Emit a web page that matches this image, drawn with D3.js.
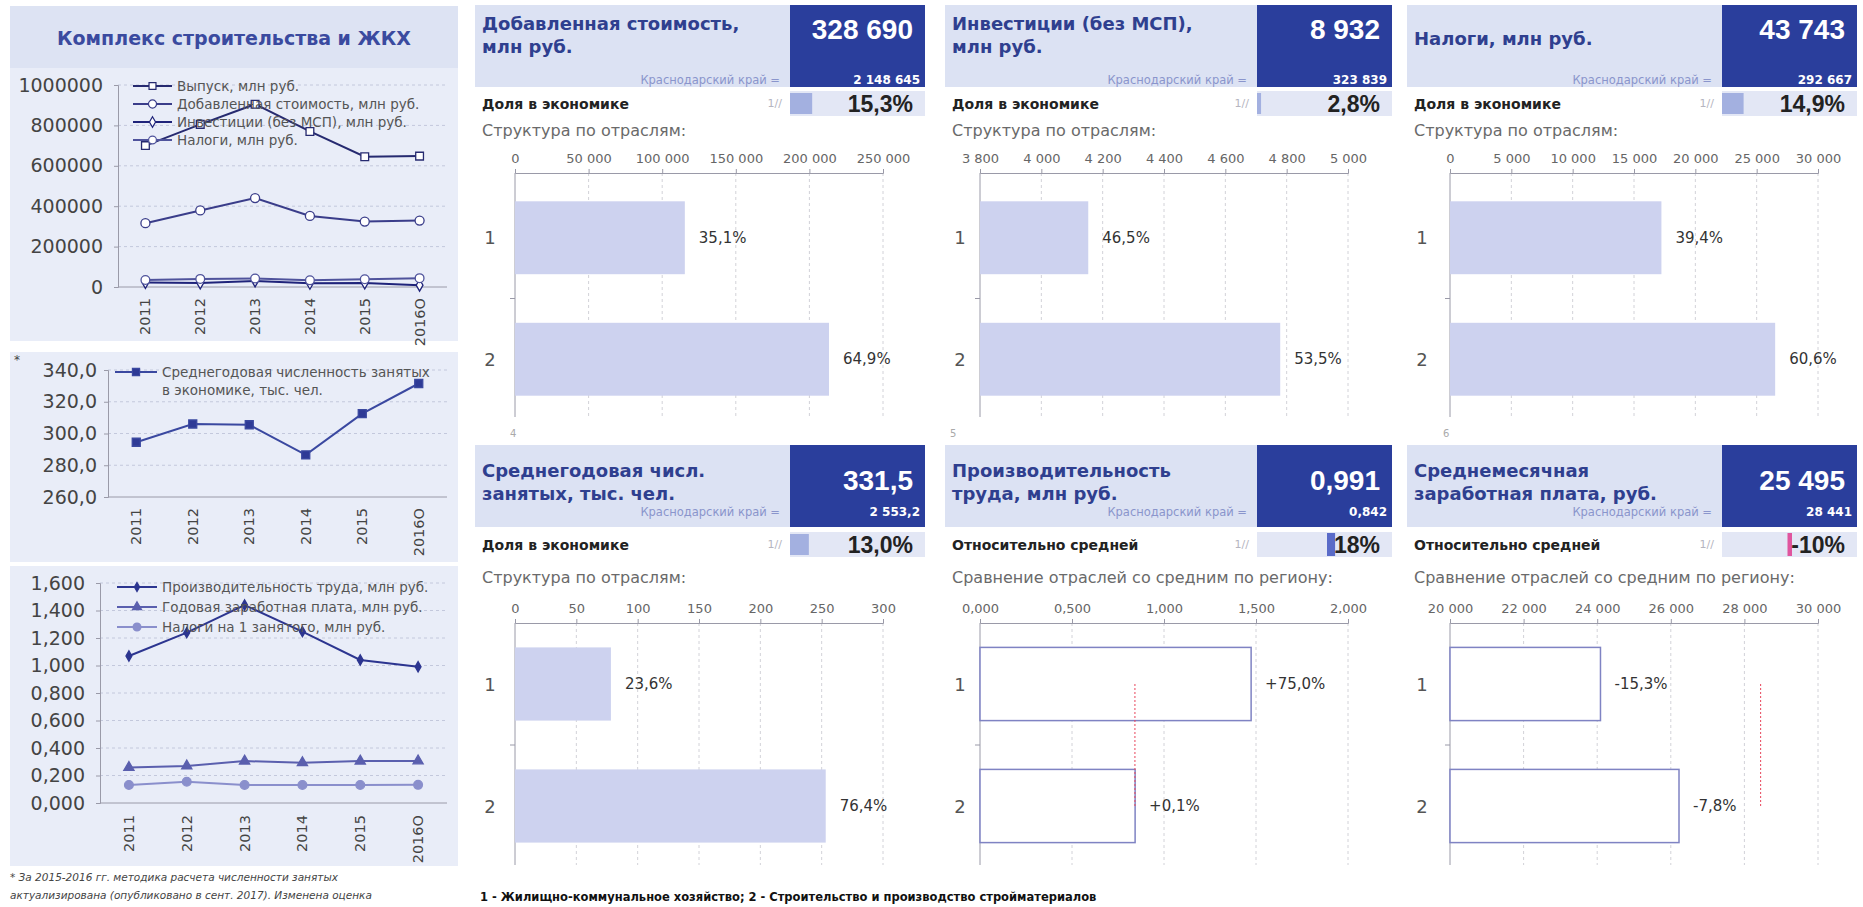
<!DOCTYPE html>
<html><head><meta charset="utf-8">
<script src="https://cdn.jsdelivr.net/npm/d3@7"></script>
<style>
body{margin:0;background:#fff}
svg{display:block}
</style>
</head><body>
<svg id="c" width="1863" height="907" font-family='"DejaVu Sans",sans-serif'></svg>
<script>
// ---------------- DATA ----------------
const years = ['2011','2012','2013','2014','2015','2016О'];

// chart 1: Комплекс строительства и ЖКХ
const outputValues     = [700000, 805000, 905000, 770000, 645000, 648000];
const valueAddedValues = [316000, 379000, 440000, 352000, 324000, 328690];
const investmentValues = [22000, 20000, 30000, 18000, 20000, 8932];
const taxValues        = [35000, 40000, 42000, 33000, 38000, 43743];
const chart1Ticks = [0, 200000, 400000, 600000, 800000, 1000000];
const chart1Names = ['Выпуск, млн руб.', 'Добавленная стоимость, млн руб.', 'Инвестиции (без МСП), млн руб.', 'Налоги, млн руб.'];

// chart 2: employment
const employmentValues = [294.5, 306.0, 305.5, 286.5, 312.5, 331.5];
const chart2Ticks = [260, 280, 300, 320, 340];
const chart2Name = ['Среднегодовая численность занятых', 'в экономике, тыс. чел.'];

// chart 3: productivity, wage, taxes per employee
const productivityValues = [1.069, 1.239, 1.440, 1.246, 1.040, 0.991];
const annualWageValues   = [0.258, 0.269, 0.305, 0.293, 0.305, 0.306];
const taxPerEmpValues    = [0.131, 0.155, 0.131, 0.131, 0.131, 0.132];
const chart3Ticks = [0, 0.2, 0.4, 0.6, 0.8, 1.0, 1.2, 1.4, 1.6];
const chart3Names = ['Производительность труда, млн руб.', 'Годовая заработная плата, млн руб.', 'Налоги на 1 занятого, млн руб.'];

// cards
const cardTitles = [
  ['Добавленная стоимость,', 'млн руб.'],
  ['Инвестиции (без МСП),', 'млн руб.'],
  ['Налоги, млн руб.'],
  ['Среднегодовая числ.', 'занятых, тыс. чел.'],
  ['Производительность', 'труда, млн руб.'],
  ['Среднемесячная', 'заработная плата, руб.']
];
const cardValues   = ['328 690', '8 932', '43 743', '331,5', '0,991', '25 495'];
const regionValues = ['2 148 645', '323 839', '292 667', '2 553,2', '0,842', '28 441'];
const shareLabels  = ['Доля в экономике', 'Доля в экономике', 'Доля в экономике', 'Доля в экономике', 'Относительно средней', 'Относительно средней'];
const shareValues  = [15.3, 2.8, 14.9, 13.0, 18, -10];
const shareTexts   = ['15,3%', '2,8%', '14,9%', '13,0%', '18%', '-10%'];
const subTitles    = ['Структура по отраслям:', 'Структура по отраслям:', 'Структура по отраслям:', 'Структура по отраслям:',
                      'Сравнение отраслей со средним по региону:', 'Сравнение отраслей со средним по региону:'];
const industries = ['1', '2'];
const barValues = [
  [115370, 213320],
  [4153, 4779],
  [17235, 26508],
  [78.2, 253.3],
  [1.4735, 0.843],
  [24089, 26223]
];
const barTexts = [
  ['35,1%', '64,9%'],
  ['46,5%', '53,5%'],
  ['39,4%', '60,6%'],
  ['23,6%', '76,4%'],
  ['+75,0%', '+0,1%'],
  ['-15,3%', '-7,8%']
];
const barTicks = [
  [0, 50000, 100000, 150000, 200000, 250000],
  [3800, 4000, 4200, 4400, 4600, 4800, 5000],
  [0, 5000, 10000, 15000, 20000, 25000, 30000],
  [0, 50, 100, 150, 200, 250, 300],
  [0, 0.5, 1, 1.5, 2],
  [20000, 22000, 24000, 26000, 28000, 30000]
];
const regionAverages = [null, null, null, null, 0.842, 28441];
const cardNumbers = ['4', '5', '6'];

// ---------------- DRAW ----------------
const svg = d3.select('#c');
const ru = d3.formatLocale({decimal: ',', thousands: '\u00a0', grouping: [3], currency: ['', '']});
const DJ = '"DejaVu Sans",sans-serif';
const AR = '"Liberation Sans",Arial,sans-serif';

const LEFT_X = 10, LEFT_W = 448, PLOT_R = 447;

// title band
svg.append('rect').attr('x', LEFT_X).attr('y', 6).attr('width', LEFT_W).attr('height', 62).attr('fill', '#dde3f3');
svg.append('text').attr('x', 234).attr('y', 38).attr('text-anchor', 'middle').attr('dominant-baseline', 'central')
  .attr('font-size', 19).attr('font-weight', 'bold').attr('fill', '#3a4a9f').text('Комплекс строительства и ЖКХ');

function marker(g, type, size, cx, cy, fill, stroke, sw) {
  g.append('path').attr('d', d3.symbol().type(type).size(size)())
    .attr('transform', `translate(${cx},${cy})`).attr('fill', fill).attr('stroke', stroke).attr('stroke-width', sw);
}

function lineChart(o) {
  const g = svg.append('g');
  g.append('rect').attr('x', LEFT_X).attr('y', o.panel[0]).attr('width', LEFT_W).attr('height', o.panel[1] - o.panel[0]).attr('fill', '#e9edf8');
  const x = d3.scalePoint().domain(years).range([o.x0, PLOT_R]).padding(0.5);
  const y = d3.scaleLinear().domain([o.ticks[0], o.ticks[o.ticks.length - 1]]).range([o.yBottom, o.yTop]);
  g.selectAll('line.grid').data(o.ticks.slice(1)).join('line').attr('class', 'grid')
    .attr('x1', o.x0).attr('x2', PLOT_R).attr('y1', d => y(d)).attr('y2', d => y(d))
    .attr('stroke', '#c3c8dc').attr('stroke-dasharray', '3,3');
  const ya = g.append('g').attr('transform', `translate(${o.x0},0)`)
    .call(d3.axisLeft(y).tickValues(o.ticks).tickFormat(o.fmt).tickSize(4).tickPadding(o.pad));
  ya.attr('font-family', DJ);
  ya.select('.domain').attr('stroke', '#9a9aa8');
  ya.selectAll('.tick line').attr('stroke', '#9a9aa8');
  ya.selectAll('text').attr('font-size', o.fs).attr('fill', '#444');
  g.append('line').attr('x1', o.x0).attr('x2', PLOT_R).attr('y1', o.yBottom).attr('y2', o.yBottom).attr('stroke', '#9a9aa8');
  g.selectAll('text.xl').data(years).join('text').attr('class', 'xl')
    .attr('transform', d => `translate(${x(d)},${o.yBottom + o.xlOff}) rotate(-90)`)
    .attr('text-anchor', 'end').attr('dominant-baseline', 'central').attr('font-size', 14.5).attr('fill', '#444').text(d => d);
  o.series.forEach(s => {
    g.append('path').datum(s.values).attr('fill', 'none').attr('stroke', s.color).attr('stroke-width', s.lw || 2)
      .attr('d', d3.line().x((d, i) => x(years[i])).y(d => y(d)));
    s.values.forEach((v, i) => marker(g, s.type, s.size, x(years[i]), y(v), s.fill, s.color, 1.3));
  });
  o.series.forEach((s, i) => {
    if (!s.name) return;
    const ly = o.legY + i * o.legStep;
    g.append('line').attr('x1', o.legX[0]).attr('x2', o.legX[1]).attr('y1', ly).attr('y2', ly).attr('stroke', s.color).attr('stroke-width', 2);
    marker(g, s.type, s.size * 0.8, (o.legX[0] + o.legX[1]) / 2, ly, s.fill, s.color, 1.2);
    s.name.forEach((t, k) => g.append('text').attr('x', o.legX[1] + 5).attr('y', ly + k * 18)
      .attr('dominant-baseline', 'central').attr('font-size', 13.5).attr('fill', '#555').text(t));
  });
  return g;
}

lineChart({
  panel: [68, 341], x0: 118, yTop: 85, yBottom: 287, ticks: chart1Ticks, fmt: d3.format('d'), pad: 11, fs: 19, xlOff: 11,
  legX: [133, 172], legY: 86, legStep: 18,
  series: [
    {values: outputValues, color: '#262a70', type: d3.symbolSquare, size: 60, fill: '#fff', name: [chart1Names[0]]},
    {values: valueAddedValues, color: '#3a3d8a', type: d3.symbolCircle, size: 64, fill: '#fff', name: [chart1Names[1]]},
    {values: investmentValues, color: '#1f237a', type: d3.symbolDiamond, size: 40, fill: '#fff', name: [chart1Names[2]]},
    {values: taxValues, color: '#4f539c', type: d3.symbolCircle, size: 60, fill: '#fff', name: [chart1Names[3]]}
  ]
});

lineChart({
  panel: [352, 562], x0: 108, yTop: 370, yBottom: 497, ticks: chart2Ticks, fmt: ru.format('.1f'), pad: 7, fs: 19, xlOff: 11,
  legX: [115, 157], legY: 372, legStep: 18,
  series: [
    {values: employmentValues, color: '#3a48a0', type: d3.symbolSquare, size: 64, fill: '#2e3a96', name: chart2Name}
  ]
});
svg.append('text').attr('x', 14).attr('y', 364).attr('font-size', 12).attr('fill', '#444').text('*');

lineChart({
  panel: [566, 866], x0: 100, yTop: 583, yBottom: 803, ticks: chart3Ticks, fmt: ru.format('.3f'), pad: 11, fs: 19, xlOff: 12,
  legX: [117, 157], legY: 587, legStep: 20,
  series: [
    {values: productivityValues, color: '#2c3590', type: d3.symbolDiamond, size: 30, fill: '#2c3590', name: [chart3Names[0]]},
    {values: annualWageValues, color: '#5a5fae', type: d3.symbolTriangle, size: 45, fill: '#5a5fae', name: [chart3Names[1]]},
    {values: taxPerEmpValues, color: '#8a8fcc', type: d3.symbolCircle, size: 60, fill: '#8a8fcc', name: [chart3Names[2]]}
  ]
});

// footnote
svg.append('text').attr('x', 10).attr('y', 881).attr('font-size', 10.5).attr('font-style', 'italic').attr('fill', '#444')
  .text('* За 2015-2016 гг. методика расчета численности занятых');
svg.append('text').attr('x', 10).attr('y', 899).attr('font-size', 10.5).attr('font-style', 'italic').attr('fill', '#444')
  .text('актуализирована (опубликовано в сент. 2017). Изменена оценка');

// ---------------- CARDS ----------------
const colX = [475, 945, 1407], colW = [450, 447, 450];
const axisX0 = [515, 980, 1450], AXIS_LEN = 368;
const rowTop = [5, 445];
const titleY = [[23, 46], [470, 493]];
const singleTitleY = [38, 482];
const numberY = [29, 480];
const regionY = [80, 512];
const shareY = [91, 532];
const subY = [130, 577];
const axisY = [173, 623];
const catRange = [[177, 420], [623, 867]];
const gridBottom = [417, 865];
const numLabelX = [510, 950, 1443];
const DARK_W = 135, HEADER_H = 82, SHARE_H = 25;

const shareScale = d3.scaleLinear().domain([0, 100]).range([0, 145]);
const relScale = d3.scaleLinear().domain([0, 100]).range([0, 45]);

const fmts = [ru.format(',d'), ru.format(',d'), ru.format(',d'), ru.format('d'), ru.format('.3f'), ru.format(',d')];

cardTitles.forEach((title, i) => {
  const col = i % 3, row = Math.floor(i / 3);
  const g = svg.append('g');
  const cx = colX[col], cw = colW[col], top = rowTop[row];
  const boxL = cx + cw - DARK_W, boxR = cx + cw;
  g.append('rect').attr('x', cx).attr('y', top).attr('width', cw).attr('height', HEADER_H).attr('fill', '#dce2f3');
  g.append('rect').attr('x', boxL).attr('y', top).attr('width', DARK_W).attr('height', HEADER_H).attr('fill', '#2a3e9c');
  // title
  const tlines = title.length === 1 ? [singleTitleY[row]] : titleY[row];
  title.forEach((t, k) => g.append('text').attr('x', cx + 7).attr('y', tlines[k]).attr('dominant-baseline', 'central')
    .attr('font-size', 18).attr('font-weight', 'bold').attr('fill', '#2f3f8f').text(t));
  g.append('text').attr('x', boxR - 12).attr('y', numberY[row]).attr('text-anchor', 'end').attr('dominant-baseline', 'central')
    .attr('font-family', AR).attr('font-size', 28).attr('font-weight', 'bold').attr('fill', '#fff').text(cardValues[i]);
  g.append('text').attr('x', boxL - 10).attr('y', regionY[row]).attr('text-anchor', 'end').attr('dominant-baseline', 'central')
    .attr('font-size', 11.5).attr('fill', '#8a95cc').text('Краснодарский край =');
  g.append('text').attr('x', boxR - 5).attr('y', regionY[row]).attr('text-anchor', 'end').attr('dominant-baseline', 'central')
    .attr('font-size', 12).attr('font-weight', 'bold').attr('fill', '#fff').text(regionValues[i]);
  // share row
  const sy = shareY[row];
  g.append('rect').attr('x', boxL).attr('y', sy).attr('width', DARK_W).attr('height', SHARE_H).attr('fill', '#e3e7f5');
  const sv = shareValues[i];
  if (row === 1 && col > 0) {
    const mid = boxL + 70;
    const w = relScale(Math.abs(sv));
    g.append('rect').attr('x', sv >= 0 ? mid : mid - w).attr('y', sy + 1).attr('width', w).attr('height', SHARE_H - 2)
      .attr('fill', sv >= 0 ? '#5a6bc8' : '#e0559e');
  } else {
    g.append('rect').attr('x', boxL).attr('y', sy + 2).attr('width', shareScale(sv)).attr('height', SHARE_H - 4).attr('fill', '#a3b0e0');
  }
  g.append('text').attr('x', cx + 7).attr('y', sy + SHARE_H / 2).attr('dominant-baseline', 'central')
    .attr('font-size', 14).attr('font-weight', 'bold').attr('fill', '#222').text(shareLabels[i]);
  g.append('text').attr('x', boxL - 8).attr('y', sy + SHARE_H / 2).attr('text-anchor', 'end').attr('dominant-baseline', 'central')
    .attr('font-size', 11).attr('fill', '#b5b5c0').text('1//');
  g.append('text').attr('x', boxR - 12).attr('y', sy + SHARE_H / 2).attr('text-anchor', 'end').attr('dominant-baseline', 'central')
    .attr('font-family', AR).attr('font-size', 23).attr('font-weight', 'bold').attr('fill', '#222').text(shareTexts[i]);
  g.append('text').attr('x', cx + 7).attr('y', subY[row]).attr('dominant-baseline', 'central')
    .attr('font-size', 16).attr('fill', '#6a6a6a').text(subTitles[i]);

  // bar chart
  const ticks = barTicks[i];
  const x = d3.scaleLinear().domain([ticks[0], ticks[ticks.length - 1]]).range([axisX0[col], axisX0[col] + AXIS_LEN]);
  const y = d3.scaleBand().domain(industries).range(catRange[row]).paddingInner(0.4).paddingOuter(0.2);
  const ay = axisY[row], gb = gridBottom[row];
  g.selectAll('line.grid').data(ticks.slice(1)).join('line').attr('class', 'grid')
    .attr('x1', d => x(d)).attr('x2', d => x(d)).attr('y1', ay).attr('y2', gb)
    .attr('stroke', '#d2d2d8').attr('stroke-dasharray', '3,3');
  const xa = g.append('g').attr('transform', `translate(0,${ay})`)
    .call(d3.axisTop(x).tickValues(ticks).tickFormat(fmts[i]).tickSize(4).tickPadding(6));
  xa.attr('font-family', DJ);
  xa.select('.domain').attr('stroke', '#9a9aa8');
  xa.selectAll('.tick line').attr('stroke', '#9a9aa8');
  xa.selectAll('text').attr('font-size', 13).attr('fill', '#666');
  // category axis
  g.append('line').attr('x1', x.range()[0]).attr('x2', x.range()[0]).attr('y1', ay).attr('y2', gb).attr('stroke', '#9a9aa8');
  const step = y.step();
  g.append('line').attr('x1', x.range()[0] - 5).attr('x2', x.range()[0]).attr('y1', catRange[row][0] + step).attr('y2', catRange[row][0] + step).attr('stroke', '#9a9aa8');
  // bars
  const outlined = row === 1 && col > 0;
  g.selectAll('rect.bar').data(barValues[i]).join('rect').attr('class', 'bar')
    .attr('x', x.range()[0]).attr('y', (d, k) => y(industries[k]))
    .attr('width', d => x(d) - x.range()[0]).attr('height', y.bandwidth())
    .attr('fill', outlined ? '#fff' : '#cdd2ef').attr('stroke', outlined ? '#7f83c3' : 'none').attr('stroke-width', 1.5);
  g.selectAll('text.cat').data(industries).join('text').attr('class', 'cat')
    .attr('x', cx + 15).attr('y', d => y(d) + y.bandwidth() / 2).attr('text-anchor', 'middle').attr('dominant-baseline', 'central')
    .attr('font-size', 18).attr('fill', '#555').text(d => d);
  g.selectAll('text.val').data(barValues[i]).join('text').attr('class', 'val')
    .attr('x', d => x(d) + 14).attr('y', (d, k) => y(industries[k]) + y.bandwidth() / 2).attr('dominant-baseline', 'central')
    .attr('font-size', 15).attr('fill', '#333').text((d, k) => barTexts[i][k]);
  if (regionAverages[i] !== null) {
    g.append('line').attr('x1', x(regionAverages[i])).attr('x2', x(regionAverages[i]))
      .attr('y1', y('1') + y.bandwidth() / 2).attr('y2', y('2') + y.bandwidth() / 2)
      .attr('stroke', '#e8455a').attr('stroke-width', 1).attr('stroke-dasharray', '2,2');
  }
  if (row === 0) {
    g.append('text').attr('x', numLabelX[col]).attr('y', 433).attr('dominant-baseline', 'central')
      .attr('font-size', 10).attr('fill', '#aaa').text(cardNumbers[col]);
  }
});

svg.append('text').attr('x', 480).attr('y', 897).attr('dominant-baseline', 'central')
  .attr('font-size', 11.5).attr('font-weight', 'bold').attr('fill', '#111')
  .text('1 - Жилищно-коммунальное хозяйство; 2 - Строительство и производство стройматериалов');
</script>
</body></html>
